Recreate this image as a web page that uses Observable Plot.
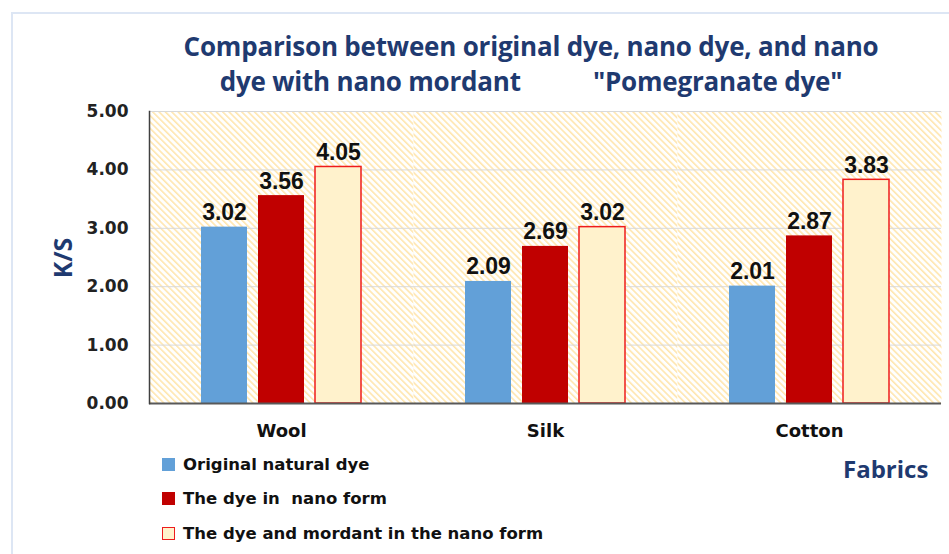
<!DOCTYPE html>
<html><head><meta charset="utf-8">
<script src="https://cdn.jsdelivr.net/npm/d3@7"></script>
<script src="https://cdn.jsdelivr.net/npm/@observablehq/plot@0.6"></script>
<style>
body{margin:0;background:#fff;}
#wrap{position:relative;width:949px;height:554px;overflow:hidden;background:#fff;}
#border{position:absolute;left:11px;top:12px;width:1000px;height:600px;border-top:2px solid #dde6f4;border-left:2px solid #dde6f4;}
.title{position:absolute;left:0;width:1062px;text-align:center;font-family:"Open Sans",sans-serif;font-weight:bold;font-size:26px;color:#1f3a70;white-space:pre;line-height:30px;letter-spacing:-0.2px;}
#chart{position:absolute;left:0;top:95px;}
#ylab{position:absolute;left:62px;top:258px;transform:translate(-50%,-50%) rotate(-90deg);font-family:"Open Sans",sans-serif;font-weight:bold;font-size:25px;color:#1f3a70;}
#xlab{position:absolute;left:843px;top:452px;font-family:"Open Sans",sans-serif;font-weight:bold;font-size:24px;color:#1f3a70;}
#legend{position:absolute;left:162px;top:447px;font-family:"DejaVu Sans",sans-serif;font-weight:bold;font-size:16.5px;color:#111;}
.item{display:flex;align-items:center;height:34.5px;white-space:pre;}
.sw{width:13px;height:13px;box-sizing:border-box;margin-right:8px;}
</style></head>
<body><div id="wrap">
<div id="border"></div>
<div class="title" style="top:31px">Comparison between original dye, nano dye, and nano</div>
<div class="title" style="top:66px">dye with nano mordant           "Pomegranate dye"</div>
<div id="chart"></div>
<div id="ylab">K/S</div>
<div id="xlab">Fabrics</div>
<div id="legend"></div>
</div>
<script>
const fabrics = ["Wool", "Silk", "Cotton"];
const series = ["Original natural dye", "The dye in  nano form", "The dye and mordant in the nano form"];
const original = [3.02, 2.09, 2.01];
const nanoForm = [3.56, 2.69, 2.87];
const nanoMordant = [4.05, 3.02, 3.83];
const yTicks = [0, 1, 2, 3, 4, 5];
const fills = ["#62a0d8", "#c00000", "#fff2cc"];
const strokes = ["none", "none", "#ee1c1c"];

const valuesBySeries = [original, nanoForm, nanoMordant];
const data = fabrics.flatMap((f, i) => series.map((s, j) => ({fabric: f, series: s, value: valuesBySeries[j][i], si: j})));

const chart = Plot.plot({
  width: 949, height: 355,
  marginLeft: 148, marginRight: 7, marginTop: 16, marginBottom: 47,
  fx: {domain: fabrics, padding: 0, label: null},
  x: {domain: series, paddingInner: 0.19, paddingOuter: 0.877, axis: null},
  y: {domain: [0, 5], label: null},
  color: {domain: series, range: fills},
  marks: [
    Plot.frame({fill: "url(#hatch)", stroke: null}),
    Plot.gridY(yTicks, {stroke: "#d9d9d9", strokeOpacity: 1, strokeWidth: 1}),
    Plot.barY(data, {fx: "fabric", x: "series", y: "value", fill: "series",
      stroke: d => strokes[d.si], strokeWidth: 1.5}),
    Plot.text(data, {fx: "fabric", x: "series", y: "value", text: d => d.value.toFixed(2),
      lineAnchor: "bottom", dy: -7, fontFamily: "Liberation Sans, Arial, sans-serif",
      fontWeight: "bold", fontSize: 23, fill: "#111"}),
    Plot.ruleY([0], {stroke: "#595959", strokeWidth: 2}),
    Plot.frame({anchor: "left", facet: "super", stroke: "#404040", strokeWidth: 1.5}),
    Plot.axisY({ticks: yTicks, tickFormat: d => d.toFixed(2), tickSize: 0, tickPadding: 21,
      label: null, fontFamily: "DejaVu Sans, sans-serif", fontWeight: "bold", fontSize: 17, fill: "#222"}),
    Plot.axisFx({anchor: "bottom", tickSize: 0, tickPadding: 21, label: null,
      fontFamily: "DejaVu Sans, sans-serif", fontWeight: "bold", fontSize: 18, fill: "#111"})
  ]
});
chart.insertAdjacentHTML("afterbegin",
  '<defs><pattern id="hatch" patternUnits="userSpaceOnUse" width="4.5" height="4.5" patternTransform="rotate(-45)">' +
  '<rect width="4.5" height="4.5" fill="#ffffff"/><rect width="1.6" height="4.5" fill="#ffe6ae"/></pattern></defs>');
document.getElementById("chart").appendChild(chart);

const legend = document.getElementById("legend");
series.forEach((s, j) => {
  const item = document.createElement("div");
  item.className = "item";
  const sw = document.createElement("div");
  sw.className = "sw";
  sw.style.background = fills[j];
  if (strokes[j] !== "none") sw.style.border = "1.5px solid " + strokes[j];
  const t = document.createElement("span");
  t.textContent = s;
  item.appendChild(sw); item.appendChild(t);
  legend.appendChild(item);
});
</script>
</body></html>
